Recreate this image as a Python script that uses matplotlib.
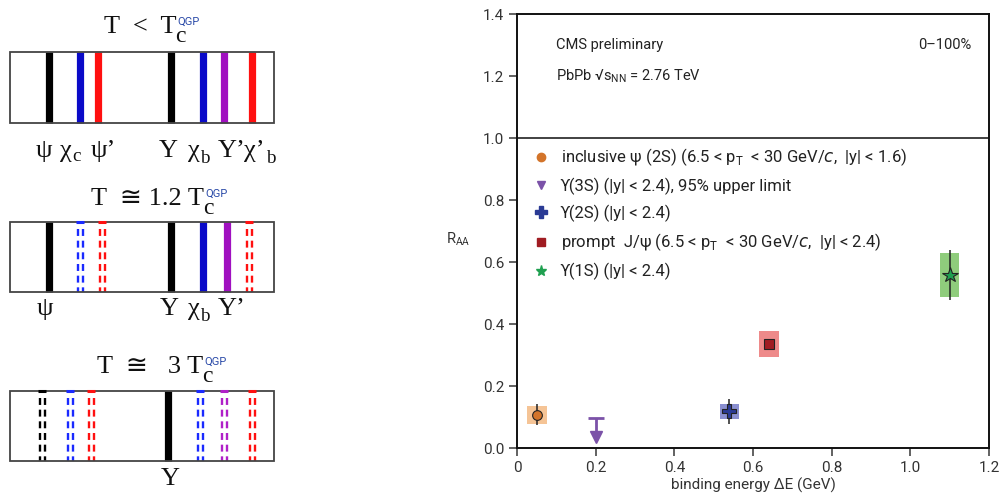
import matplotlib
matplotlib.use("Agg")
import matplotlib.pyplot as plt
from matplotlib.lines import Line2D
from matplotlib.patches import Rectangle
from matplotlib import font_manager

# ---------------- data ----------------
states = ["psi2S", "Y2S", "Jpsi", "Y1S"]
binding_energy = [0.05, 0.54, 0.64, 1.10]
raa = [0.107, 0.118, 0.336, 0.558]
stat_err = [0.034, 0.04, 0.012, 0.081]
syst_err = [0.029, 0.023, 0.041, 0.071]
ul_energy = 0.20
ul_raa = 0.098

legend_labels = [
    "inclusive ψ (2S) (6.5 < p$_\\mathregular{T}$  < 30 GeV/$c$,  |y| < 1.6)",
    "ϒ(3S) (|y| < 2.4), 95% upper limit",
    "ϒ(2S) (|y| < 2.4)",
    "prompt  J/ψ (6.5 < p$_\\mathregular{T}$  < 30 GeV/$c$,  |y| < 2.4)",
    "ϒ(1S) (|y| < 2.4)",
]
x_ticks = [0, 0.2, 0.4, 0.6, 0.8, 1.0, 1.2]
x_tick_labels = ["0", "0.2", "0.4", "0.6", "0.8", "1.0", "1.2"]
y_ticks = [0.0, 0.2, 0.4, 0.6, 0.8, 1.0, 1.2, 1.4]
y_tick_labels = ["0.0", "0.2", "0.4", "0.6", "0.8", "1.0", "1.2", "1.4"]

# schematic spectral lines (left panel): x position, colour, melted?
panel1_lines = [(49, "k", False), (80, "b", False), (98, "r", False), (171, "k", False),
                (203, "b", False), (224, "p", False), (252, "r", False)]
panel2_lines = [(49, "k", False), (80, "b", True), (102, "r", True), (171, "k", False),
                (203, "b", False), (227, "p", False), (249, "r", True)]
panel3_lines = [(42, "k", True), (70, "b", True), (91, "r", True), (168, "k", False),
                (200, "b", True), (224, "p", True), (252, "r", True)]

# ---------------- style ----------------
avail = {f.name for f in font_manager.fontManager.ttflist}
sans = [f for f in ["Liberation Sans Narrow", "Roboto", "DejaVu Sans"] if f in avail] + ["DejaVu Sans"]
serif = ["Liberation Serif", "DejaVu Serif", "DejaVu Sans"]
plt.rcParams["font.family"] = sans
plt.rcParams["mathtext.fontset"] = "custom"
plt.rcParams["lines.scale_dashes"] = False

box_colors = ["#f5c496", "#8a8fd0", "#ee8a8a", "#8fcc7c"]
mk_colors = ["#d3742a", "#2a3a94", "#a01c22", "#1fa050"]
markers = ["o", "P", "s", "*"]
msizes = [7, 10, 7, 11.5]
ul_color = "#7b52a8"

line_cols = {"k": "#000000", "b": "#0a0ac8", "r": "#ff1010", "p": "#a010c0"}
dash_cols = {"k": "#000000", "b": "#1a2aff", "r": "#ff1010", "p": "#b020c8"}

W, H = 1003, 504
fig = plt.figure(figsize=(W / 100, H / 100), dpi=100)
renderer = fig.canvas.get_renderer()

# ---------------- left schematic panel ----------------
axl = fig.add_axes([0, 0, 300 / W, 1])
axl.set_xlim(0, 300)
axl.set_ylim(H, 0)
axl.axis("off")


def draw_box(top, bottom, lines):
    axl.add_patch(Rectangle((10, top), 264, bottom - top, fill=False,
                            ec="#444444", lw=1.3, zorder=3))
    for x, c, melted in lines:
        if not melted:
            axl.plot([x, x], [top, bottom], color=line_cols[c], lw=5.2,
                     solid_capstyle="butt", zorder=2)
        else:
            for dx in (-2.5, 2.5):
                axl.plot([x + dx, x + dx], [top + 7, bottom], color=dash_cols[c],
                         lw=1.7, dashes=(5.0, 3.4), zorder=2)
            axl.plot([x - 4, x + 4], [top, top], color=dash_cols[c], lw=2.2,
                     solid_capstyle="butt", zorder=4)


def right_edge(t):
    bb = t.get_window_extent(renderer)
    return axl.transData.inverted().transform((bb.x1, bb.y0))[0]


def label(x, y, main, sub=None, sup=None, size=19, sub_dy=5, sub_scale=0.72,
          sup_col=None, sup_size=8, sup_dy=-8, sub_dx=0.5):
    t = axl.text(x, y, main, fontsize=size, family=serif, ha="left",
                 va="baseline", color="#111111")
    xr = right_edge(t)
    if sub:
        axl.text(xr + sub_dx, y + sub_dy, sub, fontsize=size * sub_scale,
                 family=serif, ha="left", va="baseline", color="#111111")
    if sup:
        axl.text(xr + 1, y + sup_dy, sup, fontsize=sup_size,
                 family=sans if sup_col else serif, ha="left", va="baseline",
                 color=sup_col or "#111111")
    return t


qgp_col = "#2a4aa8"
# panel 1
label(104, 33, "T  <  T", sub="c", sup="QGP", sup_col=qgp_col, sub_dy=9,
      sub_scale=0.9, sub_dx=-1)
draw_box(52, 123, panel1_lines)
label(36, 157, "ψ")
label(60, 157, "χ", sub="c", sub_dy=4)
label(91, 157, "ψ’")
label(159, 157, "Υ")
label(188, 157, "χ", sub="b", sub_dy=6)
label(218, 157, "Υ’")
label(244, 157, "χ’", sub="b", sub_dy=6, sub_dx=2)

# panel 2
label(91, 205, "T  ≅ 1.2 T", sub="c", sup="QGP", sup_col=qgp_col, sub_dy=9,
      sub_scale=0.9, sub_dx=-1)
draw_box(222, 292, panel2_lines)
label(37, 315, "ψ")
label(160, 315, "Υ")
label(188, 315, "χ", sub="b", sub_dy=6)
label(218, 315, "Υ’")

# panel 3
label(97, 373, "T  ≅   3 T", sub="c", sup="QGP", sup_col=qgp_col, sub_dy=9,
      sub_scale=0.9, sub_dx=-1)
draw_box(391, 461, panel3_lines)
label(161, 485, "Υ")

# ---------------- right data panel ----------------
ax = fig.add_axes([517 / W, 1 - 448 / H, (989 - 517) / W, (448 - 14) / H])
ax.set_xlim(0, 1.2)
ax.set_ylim(0, 1.4)

box_w = 0.05
for i in range(len(states)):
    ax.bar(binding_energy[i], 2 * syst_err[i], bottom=raa[i] - syst_err[i],
           width=box_w, color=box_colors[i], edgecolor="none", zorder=2)
    ax.errorbar(binding_energy[i], raa[i], yerr=stat_err[i], fmt="none",
                ecolor="#222222", elinewidth=1.1, capsize=0, zorder=3)
    ax.plot(binding_energy[i], raa[i], marker=markers[i], ms=msizes[i],
            color=mk_colors[i], mec="#222222", mew=0.8, ls="none", zorder=4)

# upper limit arrow
arrow_len = 0.06
ax.hlines(ul_raa, ul_energy - 0.02, ul_energy + 0.02, color=ul_color, lw=2.0, zorder=3)
ax.vlines(ul_energy, ul_raa - arrow_len, ul_raa, color=ul_color, lw=2.0, zorder=3)
ax.plot(ul_energy, ul_raa - arrow_len - 0.003, marker="v", ms=9, color=ul_color,
        mec=ul_color, ls="none", zorder=4)

# reference line at unity
ax.axhline(1.0, color="#333333", lw=1.3, zorder=1)

handles = [
    Line2D([], [], marker="o", ms=6, color=mk_colors[0], ls="none"),
    Line2D([], [], marker="v", ms=6, color=ul_color, ls="none"),
    Line2D([], [], marker="P", ms=8, color=mk_colors[1], ls="none"),
    Line2D([], [], marker="s", ms=6, color=mk_colors[2], ls="none"),
    Line2D([], [], marker="*", ms=8, color=mk_colors[3], ls="none"),
]
leg = ax.legend(handles, legend_labels, loc="upper left", bbox_to_anchor=(0.02, 0.71),
                frameon=False, fontsize=12, handlelength=0.9, handletextpad=0.75,
                labelspacing=0.58, borderaxespad=0)
for t in leg.get_texts():
    t.set_color("#222222")

ax.text(0.10, 1.30, "CMS preliminary", fontsize=10.5, color="#222222", va="center")
ax.text(0.10, 1.20, "PbPb √s$_\\mathregular{NN}$ = 2.76 TeV", fontsize=10.5,
        color="#222222", va="center")
ax.text(1.155, 1.30, "0–100%", fontsize=10.5, color="#222222", va="center", ha="right")

ax.set_xticks(x_ticks)
ax.set_xticklabels(x_tick_labels)
ax.set_yticks(y_ticks)
ax.set_yticklabels(y_tick_labels)
ax.tick_params(direction="out", length=6, width=1.3, color="#555555",
               labelsize=11, labelcolor="#333333", pad=3)
for s in ax.spines.values():
    s.set_color("#111111")
    s.set_linewidth(1.4)

ax.set_xlabel("binding energy ΔE (GeV)", fontsize=11, color="#333333", labelpad=2)
ax.set_ylabel("R$_\\mathregular{AA}$", fontsize=10.5, color="#333333", rotation=0)
ax.yaxis.set_label_coords(-0.125, 0.46)

fig.savefig("out.png", dpi=100)
